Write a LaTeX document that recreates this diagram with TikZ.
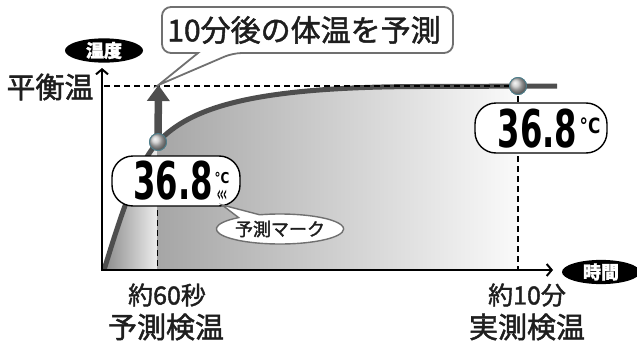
\documentclass[tikz,border=0pt]{standalone}
\usepackage{fontspec}
\setmainfont{Noto Sans CJK JP}[FakeBold=1.6]
\newfontfamily\dejavu{DejaVu Sans}
\usetikzlibrary{arrows.meta,shapes.geometric,shapes.callouts,shapes.misc}
\definecolor{ink}{HTML}{1E1E1E}
\definecolor{curvegray}{HTML}{4E4E4E}
\definecolor{outlinegray}{HTML}{707070}
\definecolor{balledge}{HTML}{4F7F8C}
\begin{document}
\begin{tikzpicture}[x=1pt,y=-1pt,
  lbl/.style={text=ink, inner sep=0pt},
  tag/.style={ellipse, fill=black, text=white, minimum width=78pt, minimum height=23pt, inner sep=0pt, font=\bfseries\fontsize{18}{18}\selectfont},
  ball/.style={circle, minimum size=17pt, inner sep=0pt, shade, ball color=gray!45, draw=balledge, line width=0.9pt},
  lcd/.style={draw=black, line width=1.4pt, fill=white, rounded corners=21pt, inner sep=0pt},
  digits/.style={inner sep=0pt, text=black, font=\dejavu\bfseries\fontsize{52}{52}\selectfont},
  degc/.style={inner sep=0pt, text=black, font=\dejavu\bfseries},
  dashline/.style={black, line width=1.6pt, dash pattern=on 6pt off 4pt},
  axisline/.style={black, line width=2pt, line join=miter},
  curveline/.style={curvegray, line width=5pt},
  bigarrow/.style={curvegray, line width=7.5pt, -{Triangle[length=16pt,width=22pt]}},
]
\useasboundingbox (0,0) rectangle (637,348);

% shaded area under the curve
\begin{scope}
\clip (104,270) .. controls (118,225) and (136,165) .. (158,142) .. controls (190,108) and (250,87) .. (420,86.5) -- (557,86) -- (557,270) -- cycle;
\shade[left color=black!47, right color=black!7] (102,60) rectangle (157.5,270);
\shade[left color=black!35, right color=black!2] (157.5,60) rectangle (518,270);
\end{scope}

% coordinates
\coordinate (O) at (102,270);
\coordinate (ytip) at (102,68);
\coordinate (xtip) at (553,270);
\coordinate (lvtop) at (157.5,200);
\coordinate (lvbot) at (157.5,270);
\coordinate (rvbot) at (518,270);
\coordinate (hleft) at (104,86);
\coordinate (atip) at (158.5,85);

% balls (positions)
\node[ball] (b1) at (158,142) {};
\node[ball] (b2) at (518,86) {};

% dashed guide lines
\draw[dashline] (lvtop) -- (lvbot);
\draw[dashline] (b2.center) -- (rvbot);

% curve
\draw[curveline] (104,270) .. controls (118,225) and (136,165) .. (b1.center) .. controls (190,108) and (250,87) .. (420,86.5) -- (557,86);

% horizontal dashed line
\draw[dashline] (hleft) -- (b2.center);

% axes
\draw[axisline, {Straight Barb[length=5pt,width=12pt]}-{Straight Barb[length=5pt,width=12pt]}] (ytip) |- (xtip);

% big arrow
\draw[bigarrow] (b1.center) -- (atip);

% balls on top
\node[ball] (b1top) at (b1) {};
\node[ball] (b2top) at (b2) {};

% axis tags
\node[tag] (tagT) at (104,50.5) {温度};
\node[tag] (tagX) at (601,272) {時間};

% axis labels
\node[lbl, font=\fontsize{29}{29}\selectfont] (eq) at (50,87) {平衡温};
\node[lbl, font=\fontsize{25}{25}\selectfont] (t60) at (167,295) {約60秒};
\node[lbl, font=\fontsize{29}{29}\selectfont] (m60) at (166,327) {予測検温};
\node[lbl, font=\fontsize{25}{25}\selectfont] (t10) at (527,295) {約10分};
\node[lbl, font=\fontsize{29}{29}\selectfont] (m10) at (527,327) {実測検温};

% left LCD bubble
\node[lcd, minimum width=128pt, minimum height=50pt] (bub1) at (176,181) {};
\node[digits] (d1) at (173,181) {\scalebox{0.62}[1]{36.8}};
\node[degc, font=\dejavu\bfseries\fontsize{15}{15}\selectfont] (c1) at (222,177.5) {\scalebox{0.8}[1]{°C}};
\node[inner sep=0pt, text=black, font=\dejavu\bfseries\fontsize{22}{22}\selectfont] (mark) at (222,196) {\scalebox{0.45}[1]{‹\kern-2pt‹\kern-2pt‹}};

% right LCD bubble
\node[lcd, minimum width=132pt, minimum height=50pt] (bub2) at (541,128) {};
\node[digits] (d2) at (537.5,128.5) {\scalebox{0.62}[1]{36.8}};
\node[degc, font=\dejavu\bfseries\fontsize{21}{21}\selectfont] (c2) at (590,126) {\scalebox{0.8}[1]{°C}};

% prediction mark callout
\node[ellipse callout, draw=outlinegray, fill=white, line width=1.4pt, minimum width=106pt, minimum height=30pt, inner sep=0pt, callout pointer arc=22, callout absolute pointer={([yshift=-3pt]mark.south)}, text=ink, font=\fontsize{18}{18}\selectfont] (markcall) at (280,229) {予測マーク};

% top callout
\draw[outlinegray, line width=1.8pt, fill=white, rounded corners=9pt] (198,53) -- (162,53) -- (162,7) -- (453,7) -- (453,53) -- (233,53) [sharp corners] -- (atip) -- cycle;
\node[lbl, font=\fontsize{30}{30}\selectfont] (pred) at (304,30) {10分後の体温を予測};
\end{tikzpicture}
\end{document}
